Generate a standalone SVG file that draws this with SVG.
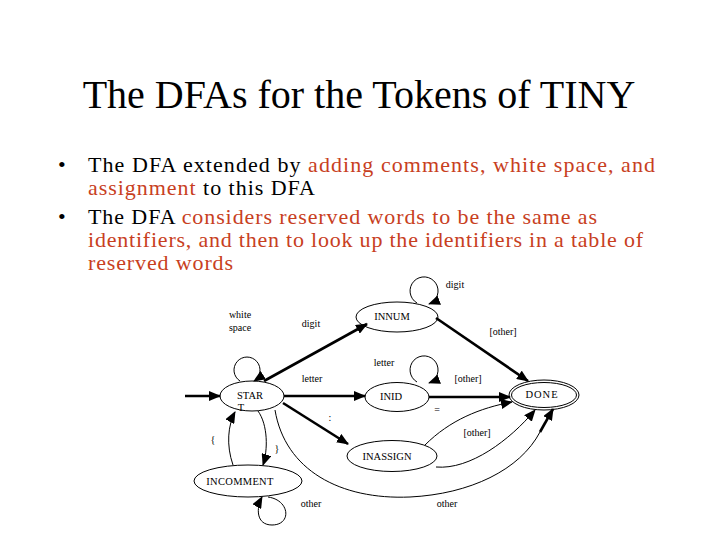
<svg xmlns="http://www.w3.org/2000/svg" width="720" height="540" viewBox="0 0 720 540" font-family="'Liberation Serif', 'Times New Roman', serif">
<style>
text{font-family:'Liberation Serif','Times New Roman',serif;fill:#000}
.title{font-size:40px}
.b{font-size:22px}
.r{fill:#c8401e}
.lbl{font-size:10px}
.st{font-size:10.5px}
.node{fill:none;stroke:#000;stroke-width:1}
.thick{fill:none;stroke:#000;stroke-width:2.6}
.thin{fill:none;stroke:#000;stroke-width:1}
</style>
<defs>
<marker id="ah" markerUnits="userSpaceOnUse" markerWidth="12" markerHeight="10" viewBox="0 0 12 10" refX="11" refY="5" orient="auto">
<path d="M0,0 L12,5 L0,10 z" fill="#000"/>
</marker>
</defs>
<rect width="720" height="540" fill="#fff"/>
<text class="title" x="359" y="108" text-anchor="middle">The DFAs for the Tokens of TINY</text>
<g id="bullets">
<text class="b" x="58" y="172">•</text>
<text class="b" x="88" y="172" textLength="567" lengthAdjust="spacing">The DFA extended by <tspan class="r">adding  comments, white space, and</tspan></text>
<text class="b" x="88" y="195" textLength="227" lengthAdjust="spacing"><tspan class="r">assignment</tspan> to this DFA</text>
<text class="b" x="58" y="224">•</text>
<text class="b" x="88" y="224" textLength="509" lengthAdjust="spacing">The DFA <tspan class="r">considers reserved words to be the same as</tspan></text>
<text class="b r" x="88" y="247" textLength="555" lengthAdjust="spacing">identifiers, and then to look up the identifiers in a table of</text>
<text class="b r" x="88" y="270" textLength="145" lengthAdjust="spacing">reserved words</text>
</g>
<g id="connectors">
<line class="thick" x1="185" y1="396" x2="220" y2="396" marker-end="url(#ah)"/>
<path class="thin" d="M240,381 A13,13 0 1 1 254,381" marker-end="url(#ah)"/>
<line class="thick" x1="264" y1="381" x2="367" y2="324" marker-end="url(#ah)"/>
<path class="thin" d="M417,303 A14,14 0 1 1 429,304" marker-end="url(#ah)"/>
<line class="thick" x1="436" y1="318" x2="528" y2="381" marker-end="url(#ah)"/>
<line class="thick" x1="284" y1="396" x2="365" y2="396" marker-end="url(#ah)"/>
<path class="thin" d="M417,382 A14,14 0 1 1 429,383" marker-end="url(#ah)"/>
<line class="thick" x1="429" y1="397" x2="510" y2="397" marker-end="url(#ah)"/>
<line class="thick" x1="283" y1="403" x2="348" y2="444" marker-end="url(#ah)"/>
<path class="thin" d="M425,445 C450,420 480,408 512,402" marker-end="url(#ah)"/>
<path class="thin" d="M436,467 C470,470 510,440 535,410" marker-end="url(#ah)"/>
<path class="thin" d="M275,410 C285,470 340,500 410,497 C470,494 520,470 540,432"/>
<line class="thick" x1="540" y1="432" x2="553" y2="409" marker-end="url(#ah)"/>
<path class="thin" d="M233,465 C226,445 228,425 235,412" marker-end="url(#ah)"/>
<path class="thin" d="M258,411 C268,425 268,450 263,465" marker-end="url(#ah)"/>
<path class="thin" d="M268,497 C290,500 292,525 272,525 C256,525 256,508 262,497" marker-end="url(#ah)"/>
</g>
<g id="labels">
<text class="lbl" x="240" y="318" text-anchor="middle">white</text>
<text class="lbl" x="240" y="331" text-anchor="middle">space</text>
<text class="lbl" x="311" y="327" text-anchor="middle">digit</text>
<text class="lbl" x="455" y="288" text-anchor="middle">digit</text>
<text class="lbl" x="503" y="335" text-anchor="middle">[other]</text>
<text class="lbl" x="384" y="366" text-anchor="middle">letter</text>
<text class="lbl" x="312" y="382" text-anchor="middle">letter</text>
<text class="lbl" x="468" y="382" text-anchor="middle">[other]</text>
<text class="lbl" x="330" y="421" text-anchor="middle">:</text>
<text class="lbl" x="437" y="413" text-anchor="middle">=</text>
<text class="lbl" x="477" y="436" text-anchor="middle">[other]</text>
<text class="lbl" x="213" y="443" text-anchor="middle">{</text>
<text class="lbl" x="277" y="452" text-anchor="middle">}</text>
<text class="lbl" x="311" y="507" text-anchor="middle">other</text>
<text class="lbl" x="447" y="507" text-anchor="middle">other</text>
</g>
<g id="START">
<ellipse class="node" cx="252" cy="396" rx="32" ry="15"/>
<text class="st" x="250" y="399" text-anchor="middle">STAR</text>
<text class="st" x="241" y="411" text-anchor="middle">T</text>
</g>
<g id="INNUM">
<ellipse class="node" cx="397" cy="317" rx="41" ry="15"/>
<text class="st" x="392" y="320" text-anchor="middle">INNUM</text>
</g>
<g id="INID">
<ellipse class="node" cx="397" cy="397" rx="32" ry="14.5"/>
<text class="st" x="391" y="400" text-anchor="middle">INID</text>
</g>
<g id="DONE">
<ellipse class="node" cx="544" cy="395" rx="35" ry="15"/>
<ellipse class="node" cx="544" cy="395" rx="32.5" ry="12.5"/>
<text class="st" x="542" y="398" text-anchor="middle" letter-spacing="1">DONE</text>
</g>
<g id="INASSIGN">
<ellipse class="node" cx="392" cy="456" rx="45" ry="15.5"/>
<text class="st" x="387" y="460" text-anchor="middle">INASSIGN</text>
</g>
<g id="INCOMMENT">
<ellipse class="node" cx="248" cy="481" rx="54" ry="16"/>
<text class="st" x="240" y="485" text-anchor="middle" letter-spacing="0.3">INCOMMENT</text>
</g>
</svg>
